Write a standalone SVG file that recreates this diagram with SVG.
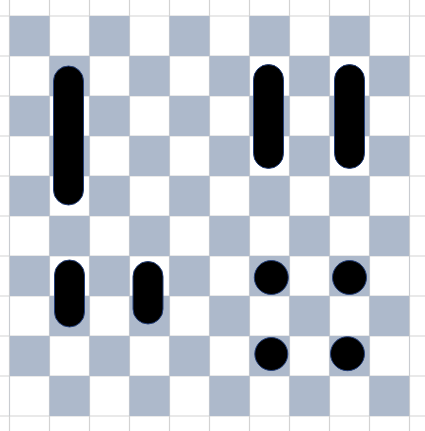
<svg xmlns="http://www.w3.org/2000/svg" width="425" height="431" viewBox="0 0 425 431">
<defs>
<style>
.grid{stroke:#d3d3d3;stroke-width:1.2;fill:none}
.cell{fill:#adb9cb}
.shape{fill:#000;stroke:#25407a;stroke-width:1}
</style>
<pattern id="chk" x="9.5" y="16" width="80" height="80" patternUnits="userSpaceOnUse">
<rect x="0" y="0" width="40" height="40" class="cell"/>
<rect x="40" y="40" width="40" height="40" class="cell"/>
</pattern>
</defs>
<rect width="425" height="431" fill="#fff"/>
<g id="gridlines" class="grid">
<path d="M9.5 0V431M49.5 0V431M89.5 0V431M129.5 0V431M169.5 0V431M209.5 0V431M249.5 0V431M289.5 0V431M329.5 0V431M369.5 0V431M409.5 0V431"/>
<path d="M0 16H425M0 56H425M0 96H425M0 136H425M0 176H425M0 216H425M0 256H425M0 296H425M0 336H425M0 376H425M0 416H425"/>
</g>
<rect id="board" x="9.5" y="16" width="400" height="400" fill="url(#chk)"/>
<g id="shapes">
<rect id="pill-tall-left" class="shape" x="53.5" y="66" width="30" height="139" rx="15"/>
<rect id="pill-a" class="shape" x="253.5" y="64.5" width="30" height="104" rx="15"/>
<rect id="pill-b" class="shape" x="334.5" y="64.5" width="30" height="104" rx="15"/>
<rect id="pill-small-a" class="shape" x="54.5" y="260" width="30" height="67" rx="15"/>
<rect id="pill-small-b" class="shape" x="133" y="261.5" width="30" height="62.5" rx="15"/>
<circle id="dot-1" class="shape" cx="271.3" cy="277.5" r="17"/>
<circle id="dot-2" class="shape" cx="349.5" cy="277.5" r="17"/>
<circle id="dot-3" class="shape" cx="271.3" cy="354" r="16.5"/>
<circle id="dot-4" class="shape" cx="347.5" cy="353.7" r="17"/>
</g>
</svg>
